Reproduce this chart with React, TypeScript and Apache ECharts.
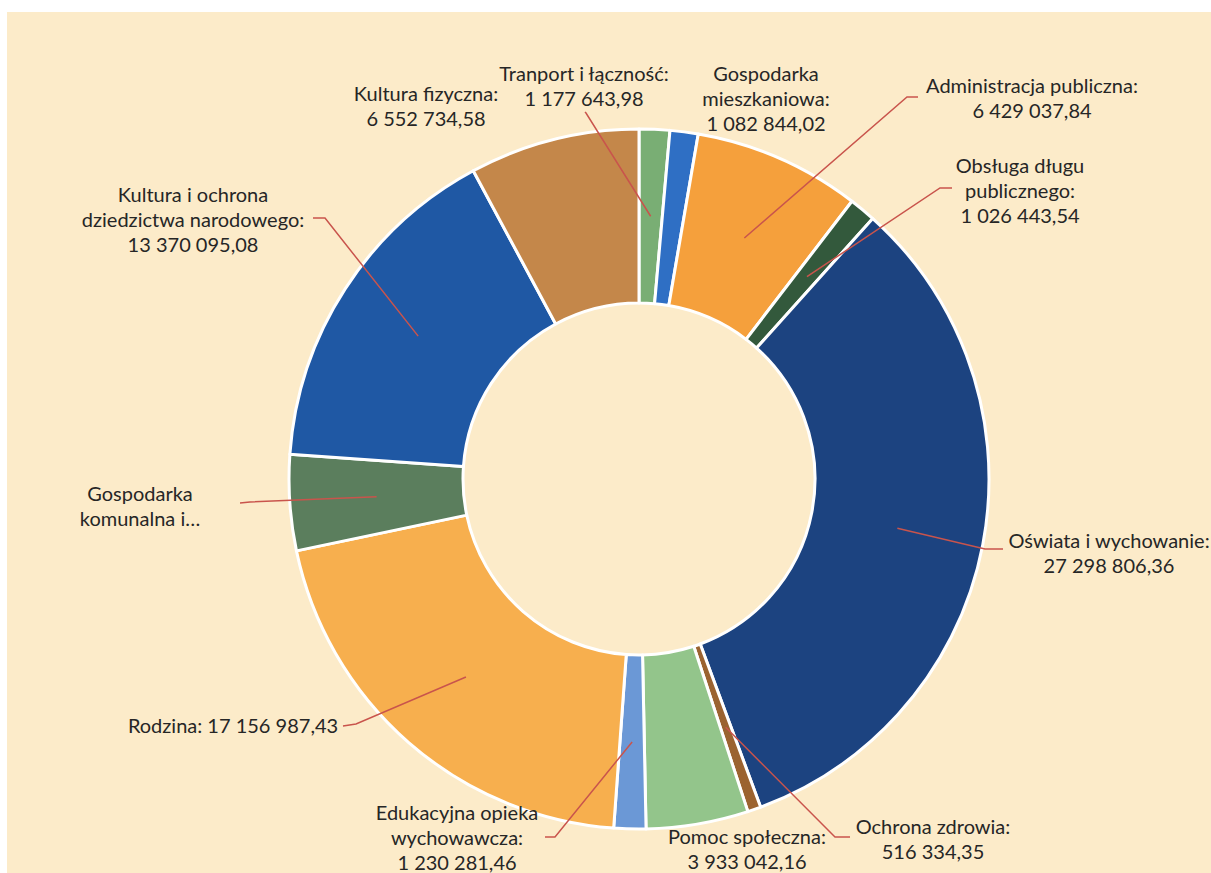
import React, { useEffect, useRef } from "react";
import * as echarts from "echarts";

// ---- data ----
const categories = [
  "Tranport i łączność",
  "Gospodarka mieszkaniowa",
  "Administracja publiczna",
  "Obsługa długu publicznego",
  "Oświata i wychowanie",
  "Ochrona zdrowia",
  "Pomoc społeczna",
  "Edukacyjna opieka wychowawcza",
  "Rodzina",
  "Gospodarka komunalna i ochrona środowiska",
  "Kultura i ochrona dziedzictwa narodowego",
  "Kultura fizyczna",
];

const values = [
  1177643.98, 1082844.02, 6429037.84, 1026443.54, 27298806.36, 516334.35,
  3933042.16, 1230281.46, 17156987.43, 3690000, 13370095.08, 6552734.58,
];

const labelHeads = [
  "Tranport i łączność:",
  "Gospodarka\nmieszkaniowa:",
  "Administracja publiczna:",
  "Obsługa długu\npublicznego:",
  "Oświata i wychowanie:",
  "Ochrona zdrowia:",
  "Pomoc społeczna:",
  "Edukacyjna opieka\nwychowawcza:",
  "Rodzina:",
  "Gospodarka\nkomunalna i…",
  "Kultura i ochrona\ndziedzictwa narodowego:",
  "Kultura fizyczna:",
];
// how the value follows the head: "\n" new line, " " same line, "" no value
const labelJoin = ["\n", "\n", "\n", "\n", "\n", "\n", "\n", "\n", " ", "", "\n", "\n"];

// ---- styles / layout ----
const colors = [
  "#79ae74", "#2f6fc4", "#f5a03c", "#33593c", "#1c4380", "#9b6330",
  "#93c58b", "#6b98d6", "#f7af4e", "#5b7e5d", "#1f58a4", "#c4874a",
];
const CX = 639;
const CY = 479;
const R_IN = 176;
const R_OUT = 350;

// label anchors (centre of text block) and leader line elbows
const labelLayoutCfg: { x: number; y: number; align: string; line?: number[][] }[] = [
  { x: 584, y: 85, align: "center", line: [[586, 113], [585, 112]] },
  { x: 766, y: 98, align: "center" },
  { x: 1032, y: 97, align: "center", line: [[907, 97], [918, 97]] },
  { x: 1020, y: 190, align: "center", line: [[940, 188], [952, 188]] },
  { x: 1109, y: 552, align: "center", line: [[985, 549], [1003, 549]] },
  { x: 933, y: 838, align: "center", line: [[835, 837], [850, 837]] },
  { x: 747, y: 848, align: "center" },
  { x: 457, y: 837, align: "center", line: [[555, 837], [545, 837]] },
  { x: 233, y: 725, align: "center", line: [[356, 724], [343, 726]] },
  { x: 140, y: 505, align: "center", line: [[250, 502], [240, 503]] },
  { x: 193, y: 219, align: "center", line: [[325, 218], [313, 218]] },
  { x: 426, y: 105, align: "center" },
];

function fmt(v: number): string {
  const [i, d] = v.toFixed(2).split(".");
  return i.replace(/\B(?=(\d{3})+(?!\d))/g, " ") + "," + d;
}

export default function App() {
  const ref = useRef<HTMLDivElement>(null);
  useEffect(() => {
    if (!ref.current) return;
    const chart = echarts.init(ref.current, null, { renderer: "svg" });
    const total = values.reduce((a, b) => a + b, 0);
    const midAngles: number[] = [];
    let cum = 0;
    values.forEach((v) => {
      midAngles.push(((cum + v / 2) / total) * Math.PI * 2);
      cum += v;
    });
    const rMid = (R_IN + R_OUT) / 2;

    const common = {
      type: "pie",
      center: [CX, CY],
      radius: [R_IN, R_OUT],
      startAngle: 90,
      clockwise: true,
      avoidLabelOverlap: false,
    };

    chart.setOption({
      animation: false,
      backgroundColor: "transparent",
      series: [
        {
          ...common,
          z: 2,
          itemStyle: { borderColor: "#ffffff", borderWidth: 3 },
          label: { show: false },
          labelLine: { show: false },
          data: categories.map((name, i) => ({
            name,
            value: values[i],
            itemStyle: { color: colors[i] },
          })),
        },
        {
          ...common,
          z: 6,
          silent: true,
          itemStyle: { color: "rgba(0,0,0,0)", borderWidth: 0 },
          label: {
            show: true,
            position: "outside",
            color: "#262626",
            fontFamily: "Lato, 'Open Sans', sans-serif",
            fontSize: 20,
            lineHeight: 25,
            align: "center",
            formatter: (p: any) => {
              const i = p.dataIndex;
              const j = labelJoin[i];
              return j === "" ? labelHeads[i] : labelHeads[i] + j + fmt(values[i]);
            },
          },
          labelLine: {
            show: true,
            smooth: false,
            lineStyle: { color: "#c9544c", width: 1.5 },
          },
          labelLayout: (params: any) => {
            const i = params.dataIndex;
            const cfg = labelLayoutCfg[i];
            const res: any = {
              x: cfg.x,
              y: cfg.y,
              align: cfg.align,
              verticalAlign: "middle",
            };
            if (cfg.line) {
              const a = midAngles[i];
              const p0 = [CX + rMid * Math.sin(a), CY - rMid * Math.cos(a)];
              res.labelLinePoints = [p0, cfg.line[0], cfg.line[1]];
            }
            return res;
          },
          data: categories.map((name, i) => ({
            name,
            value: values[i],
            labelLine: { show: !!labelLayoutCfg[i].line },
          })),
        },
      ],
    });
    return () => chart.dispose();
  }, []);

  return (
    <div
      style={{
        position: "fixed",
        left: 0,
        top: 0,
        width: 1211,
        height: 873,
        background: "#ffffff",
        overflow: "hidden",
      }}
    >
      <div
        style={{
          position: "absolute",
          left: 7,
          top: 12,
          right: 0,
          bottom: 0,
          background: "#fcebc9",
        }}
      />
      <div
        ref={ref}
        style={{ position: "absolute", left: 0, top: 0, width: 1211, height: 873 }}
      />
    </div>
  );
}
